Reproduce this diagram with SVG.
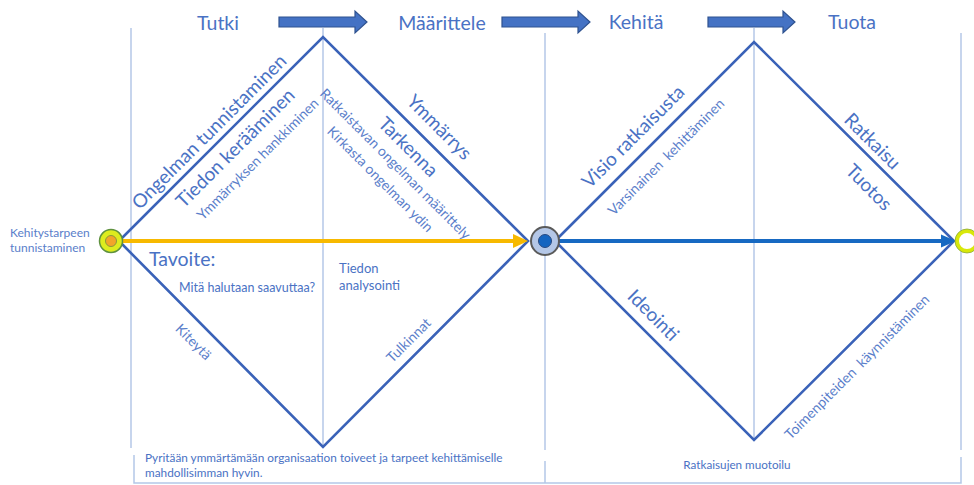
<svg xmlns="http://www.w3.org/2000/svg" width="974" height="485" viewBox="0 0 974 485">
<style>
.t{font-family:Lato,"Liberation Sans",sans-serif;fill:#4A72C4}
.hd{font-size:19.5px;text-anchor:middle}
.big{font-size:19px;text-anchor:middle}
.sm{font-size:14px;fill:#5A7ECA;text-anchor:middle}
.xs{font-size:12px;fill:#5A7ECA}
.guide{stroke:#B4C7E7;stroke-width:1.5;fill:none}
.dia{stroke:#3A62B8;stroke-width:2.6;fill:none;stroke-linejoin:miter}
.blk{fill:#4472C4;stroke:#2F528F;stroke-width:1.2}
</style>
<rect width="974" height="485" fill="#FFFFFF"/>
<g id="guides">
<line class="guide" x1="131" y1="28" x2="131" y2="448"/>
<line class="guide" x1="323" y1="28" x2="323" y2="447"/>
<line class="guide" x1="545" y1="33" x2="545" y2="450"/>
<line class="guide" x1="754" y1="28" x2="754" y2="440"/>
<line class="guide" x1="961" y1="33" x2="961" y2="450"/>
<path class="guide" d="M134,455 V483 H961 V457 M545,461 V483"/>
</g>
<g id="phase-arrows">
<path class="blk" d="M279,17 H355 V11 L367,22 L355,33 V27 H279 Z"/>
<path class="blk" d="M502,17 H578 V11 L590,22 L578,33 V27 H502 Z"/>
<path class="blk" d="M708,17 H783 V11 L795,22 L783,33 V27 H708 Z"/>
</g>
<g id="phase-labels">
<text class="t hd" x="218" y="30">Tutki</text>
<text class="t hd" x="442" y="30">Määrittele</text>
<text class="t hd" x="636" y="29">Kehitä</text>
<text class="t hd" x="852" y="29">Tuota</text>
</g>
<g id="diamond-1">
<path class="dia" d="M119,241 L323,37 L528,241 L323,447 Z"/>
<g transform="translate(119,241) rotate(-45)">
<text class="t big" x="141" y="-7">Ongelman tunnistaminen</text>
<text class="t big" x="148" y="23">Tiedon kerääminen</text>
<text class="t sm" x="156" y="45" font-size="14.5">Ymmärryksen hankkiminen</text>
</g>
<g transform="translate(323,37) rotate(45)">
<text class="t big" x="146" y="-12">Ymmärrys</text>
<text class="t big" x="138" y="24">Tarkenna</text>
<text class="t sm" x="141" y="43.5">Ratkaistavan ongelman määrittely</text>
<text class="t sm" x="141" y="65">Kirkasta ongelman ydin</text>
</g>
<g transform="translate(119,241) rotate(45)">
<text class="t sm" x="124" y="23.5">Kiteytä</text>
</g>
<g transform="translate(323,447) rotate(-45)">
<text class="t sm" x="136" y="-10">Tulkinnat</text>
</g>
<text class="t" x="149" y="266" font-size="19.5">Tavoite:</text>
<text class="t" x="179" y="292" font-size="12.5" fill="#5A7ECA">Mitä halutaan saavuttaa?</text>
<text class="t" x="339" y="273" font-size="13" fill="#5A7ECA">Tiedon</text>
<text class="t" x="339" y="290" font-size="13" fill="#5A7ECA">analysointi</text>
</g>
<g id="diamond-2">
<path class="dia" d="M555,241 L754,42 L954,241 L754,440 Z"/>
<g transform="translate(555,241) rotate(-45)">
<text class="t big" x="129" y="-12">Visio ratkaisusta</text>
<text class="t sm" x="138" y="24" font-size="15.5" xml:space="preserve">Varsinainen  kehittäminen</text>
</g>
<g transform="translate(754,42) rotate(45)">
<text class="t big" x="154" y="-7" font-size="19">Ratkaisu</text>
<text class="t big" x="184" y="28" font-size="19">Tuotos</text>
</g>
<g transform="translate(555,241) rotate(45)">
<text class="t big" x="122" y="-10.5" font-size="17.5">Ideointi</text>
</g>
<g transform="translate(754,440) rotate(-45)">
<text class="t sm" x="124.5" y="26" font-size="16" xml:space="preserve">Toimenpiteiden  käynnistäminen</text>
</g>
</g>
<g id="connectors">
<line x1="123" y1="241" x2="515" y2="241" stroke="#F7B900" stroke-width="4"/>
<polygon points="513,234 528,241 513,248" fill="#F7B900"/>
<line x1="559" y1="241" x2="943" y2="241" stroke="#1769C2" stroke-width="4"/>
<polygon points="941,234.5 956,241 941,247.5" fill="#1769C2"/>
</g>
<g id="start-node">
<circle cx="111" cy="241" r="11.5" fill="#DDEC1E" stroke="#5E9140" stroke-width="1.5"/>
<circle cx="111" cy="241" r="5.5" fill="#F2A52A" stroke="#8A9A3A" stroke-width="1"/>
<text class="t xs" x="10" y="237">Kehitystarpeen</text>
<text class="t xs" x="10" y="252">tunnistaminen</text>
</g>
<g id="mid-node">
<circle cx="545" cy="241" r="14" fill="#B4C7E7" stroke="#5A5A5A" stroke-width="2"/>
<circle cx="545" cy="241" r="6.5" fill="#1565C0" stroke="#2A4A80" stroke-width="1"/>
</g>
<g id="end-node">
<circle cx="967" cy="241" r="10" fill="#FFFFFF" stroke="#D8E80A" stroke-width="4"/>
<circle cx="967" cy="241" r="12" fill="none" stroke="#8AA83A" stroke-width="0.8"/>
</g>
<g id="bottom-notes">
<text class="t" x="145" y="462" font-size="11.8" fill="#5A7ECA">Pyritään ymmärtämään organisaation toiveet ja tarpeet kehittämiselle</text>
<text class="t" x="145" y="477" font-size="11.8" fill="#5A7ECA">mahdollisimman hyvin.</text>
<text class="t" x="737" y="469" font-size="11.7" fill="#5A7ECA" text-anchor="middle">Ratkaisujen muotoilu</text>
</g>
</svg>
